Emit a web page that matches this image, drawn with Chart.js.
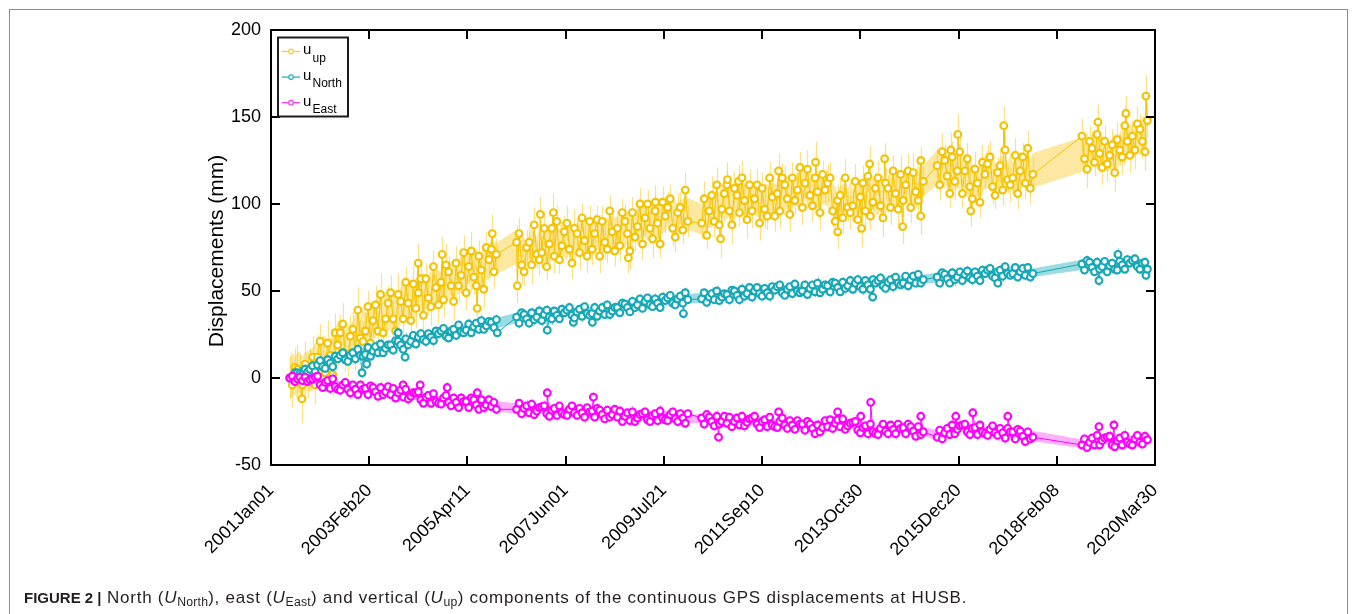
<!DOCTYPE html>
<html>
<head>
<meta charset="utf-8">
<script src="https://cdn.jsdelivr.net/npm/chart.js@4.4.1/dist/chart.umd.min.js"></script>
<style>
  html, body { margin: 0; padding: 0; background: #fff; }
  #wrap { position: relative; width: 1355px; height: 614px; overflow: hidden;
          font-family: "Liberation Sans", Arial, Helvetica, sans-serif; }
  #frame { position: absolute; left: 9px; top: 9px; width: 1339px; height: 700px;
           border: 1.5px solid #8c8c8c; box-sizing: border-box; }
  #c { position: absolute; left: 0; top: 0; }
  #caption { position: absolute; left: 24px; top: 588px; font-size: 17px; letter-spacing: 0.75px;
             color: #231f20; white-space: nowrap; line-height: 20px; }
  #caption b { font-size: 15px; letter-spacing: 0; }
  #caption sub { font-size: 0.72em; vertical-align: -0.25em; line-height: 0; letter-spacing: 0.2px; }
</style>
</head>
<body>
<div id="wrap">
  <div id="frame"></div>
  <canvas id="c" width="1355" height="614"></canvas>
  <div id="caption"><b>FIGURE 2 |</b> North (<i>U</i><sub>North</sub>), east (<i>U</i><sub>East</sub>) and vertical (<i>U</i><sub>up</sub>) components of the continuous GPS displacements at HUSB.</div>
</div>
<script>
// ---- axis ticks (x in days since 2001-01-01) ----
const tickDays = [0, 780, 1560, 2340, 3120, 3900, 4680, 5460, 6240, 7020];
const tickLabels = ['2001Jan01', '2003Feb20', '2005Apr11', '2007Jun01', '2009Jul21',
                    '2011Sep10', '2013Oct30', '2015Dec20', '2018Feb08', '2020Mar30'];
const yTicks = [-50, 0, 50, 100, 150, 200];

// ---- sampled epochs (days since 2001-01-01) ----
const days = [
  150,170,190,210,230,250,270,290,310,330, 350,370,390,410,430,450,470,490,510,530,
  550,570,590,610,630,650,670,690,710,730, 750,770,790,810,830,850,870,890,910,930,
  950,970,990,1010,1030,1050,1070,1090,1110,1130, 1150,1170,1190,1210,1230,1250,1270,1290,1310,1330,
  1350,1370,1390,1410,1430,1450,1470,1490,1510,1530, 1550,1570,1590,1610,1630,1650,1670,1690,1710,1730,
  1750,1770,1790,
  1950,1970,1990,2010,2030,2050,2070,2090,2110,2130, 2150,2170,2190,2210,2230,2250,2270,2290,2310,2330,
  2350,2370,2390,2410,2430,2450,2470,2490,2510,2530, 2550,2570,2590,2610,2630,2650,2670,2690,2710,2730,
  2750,2770,2790,2810,2830,2850,2870,2890,2910,2930, 2950,2970,2990,3010,3030,3050,3070,3090,3110,3130,
  3150,3170,3190,3210,3230,3250,3270,3290,3310,
  3420,3440,3460,3480,3500,3520,3540,3560,3580,3600, 3620,3640,3660,3680,3700,3720,3740,3760,3780,3800,
  3820,3840,3860,3880,3900,3920,3940,3960,3980,4000, 4020,4040,4060,4080,4100,4120,4140,4160,4180,4200,
  4220,4240,4260,4280,4300,4320,4340,4360,4380,4400, 4420,4440,4460,4480,4500,4520,4540,4560,4580,4600,
  4620,4640,4660,4680,4700,4720,4740,4760,4780,4800, 4820,4840,4860,4880,4900,4920,4940,4960,4980,5000,
  5020,5040,5060,5080,5100,5120,5140,5160,5180,
  5290,5310,5330,5350,5370,5390,5410,5430,5450,5470, 5490,5510,5530,5550,5570,5590,5610,5630,5650,5670,
  5690,5710,5730,5750,5770,5790,5810,5830,5850,5870, 5890,5910,5930,5950,5970,5990,6010,6030,6050,
  6440,6460,6480,6500,6520,6540,6560,6580,6600,6620, 6640,6660,6680,6700,6720,6740,6760,6780,6800,6820,
  6840,6860,6880,6900,6920,6940,6960
];

// ---- displacements (mm) ----
const uUp = [
  0,-4,6,5,1,-4,8,0,5,12, -4,12,21,7,3,20,13,2,26,19,
  26,31,14,10,24,28,15,39,23,21, 27,41,20,33,42,27,48,26,34,43,
  49,34,27,48,44,34,55,43,33,54, 40,49,57,36,57,46,41,64,52,42,
  55,45,65,61,53,44,66,53,59,72, 49,64,73,58,53,70,62,51,75,68,
  74,61,71,
  78,83,65,61,75,78,65,88,71,68, 72,86,64,77,86,70,90,68,76,84,
  89,74,66,86,83,72,92,79,70,90, 74,83,91,70,90,78,74,96,84,73,
  86,76,95,90,83,73,95,81,87,100, 77,92,100,86,80,96,89,77,101,93,
  98,103,86,81,95,98,85,108,90,
  89,103,82,96,105,90,111,88,97,106, 111,96,88,109,105,95,115,102,91,111,
  96,103,111,89,109,97,93,115,104,93, 106,96,115,111,103,94,115,102,108,121,
  98,112,120,105,99,115,107,95,117,108, 112,115,96,90,102,105,92,115,98,95,
  99,113,91,104,112,96,116,93,101,109, 115,99,92,112,109,98,119,106,97,117,
  102,111,119,98,118,107,102,125,113,
  122,111,130,125,116,106,127,113,119,130, 106,119,126,110,103,120,112,101,124,117,
  123,127,110,105,118,122,108,131,114,111, 115,128,106,119,127,112,132,109,117,
  139,126,120,136,132,124,140,129,121,136, 123,128,134,118,137,131,127,145,136,128,
  139,131,146,143,136,130,148
];
const uNorth = [
  0,-0.5,3,3,2.5,2,5,3.5,5,7, 3.5,7.5,10,6.5,5.5,10.5,8.5,6.5,12.5,11,
  13,14.5,10.5,9.5,13,14.5,11,16.5,13,12.5, 13.5,17.5,12.5,15.5,18,14.5,19.5,14.5,17,19,
  19,16,21.5,21,19,16.5,22.5,19,21,24.5, 19.5,23.5,25.5,22,21,25.5,23.5,21.5,27,25.5,
  27,28.5,24,23,27,28,24.5,30.5,26.5,26, 27.5,31,26,29.5,31.5,28,33,28,30,32.5,
  32,29,33.5,
  35,31.5,37.5,36.5,34,31.5,37.5,33.5,35,38.5, 33,36.5,39,35,34,38.5,36,34,39.5,37.5,
  39,40.5,36,34.5,38,39.5,35.5,41,37,36, 37,40.5,35.5,38.5,40.5,36.5,42,36.5,38.5,40.5,
  40.5,37.5,43,42.5,40.5,38,44,40.5,42,45.5, 40,44,46,42,41,45.5,43,40.5,46.5,44.5,
  46,47.5,43,42,45.5,47,43,49,45,
  45.5,49,43.5,46.5,48.5,45,50,44.5,46.5,48.5, 48,45,50.5,50,47.5,45,51,47,48.5,52,
  46.5,50,52,48.5,47,51.5,49,47,52.5,50.5, 52.5,53.5,49,47.5,51,52.5,48.5,54,50,49,
  50,53.5,48,51.5,53.5,49.5,54.5,49,51,53.5, 53,49.5,55,54.5,52,49.5,55,51.5,53,56,
  51,54.5,56.5,52.5,51,56,53.5,51,56.5,54.5, 56,57.5,53,51.5,55,56.5,52.5,58,54.5,53.5,
  54.5,58.5,53,56.5,58.5,54.5,59.5,54.5,56.5,
  58,54.5,60.5,59.5,57,54.5,60.5,56.5,58,61, 56,59.5,61.5,57.5,56.5,61,58.5,56,62,60,
  62,63,58.5,57.5,61,62,58.5,64,60,59, 60,63.5,58,61,63,59,63.5,58,60,
  65.5,62,67.5,66.5,63.5,61,66.5,62.5,64,67, 61,64.5,66,62.5,62,67,65,62.5,68,66,
  67.5,68.5,64,62.5,66,66.5,62.5
];
const uEast = [
  0,1,-2,-0.5,0.5,-1.5,0.5,-2,-1,-0.5, 0.5,1,-4,-5.5,-2.5,-1.5,-6,-0.5,-5,-6.5,
  -7,-4,-2.5,-6.5,-8.5,-4,-6.5,-9.5,-4,-6.5, -6,-9.5,-4.5,-5.5,-8,-10.5,-5.5,-9.5,-8,-5,
  -9.5,-6,-11.5,-8.5,-7,-11,-6.5,-12,-10.5,-8.5, -8.5,-8,-12.5,-14.5,-11,-10,-14.5,-9,-13.5,-14.5,
  -15,-11.5,-10,-14,-16,-11.5,-14,-17,-11.5,-13.5, -13.5,-17,-11.5,-12.5,-15.5,-18,-12.5,-17,-15.5,-12.5,
  -16.5,-14,-18,
  -18,-14.5,-20.5,-17.5,-16,-20,-15,-21,-19,-17, -16.5,-16,-20.5,-22,-18.5,-17.5,-21.5,-16,-20,-21,
  -21.5,-18,-16,-20,-21.5,-17.5,-20,-22.5,-17,-19.5, -19,-22.5,-17.5,-18.5,-21,-23.5,-18.5,-22.5,-21,-18,
  -22.5,-19,-25,-22,-20,-24.5,-19.5,-25,-23,-21, -20.5,-19.5,-24,-25,-21.5,-20.5,-24.5,-19,-23,-24,
  -24.5,-21,-19.5,-23.5,-25,-20.5,-23,-26,-20.5,
  -23,-26.5,-21,-22.5,-25,-27.5,-22,-26.5,-25,-22, -26,-22.5,-28,-25,-23,-27,-22,-27.5,-25.5,-23.5,
  -23,-22,-26.5,-28.5,-25,-24,-28,-22.5,-27,-28, -28.5,-25,-23,-27,-29,-24.5,-27,-29.5,-24.5,-26.5,
  -26.5,-30,-25,-26.5,-29,-32,-27,-31,-28.5,-24.5, -28,-24,-29,-26,-24,-28,-23.5,-29.5,-27.5,-26,
  -25.5,-25,-30,-31.5,-28.5,-27.5,-32,-26.5,-31,-32, -32.5,-29,-26.5,-30.5,-32,-27,-29.5,-32,-26.5,-29,
  -28.5,-32,-26.5,-28,-30.5,-33.5,-28,-32.5,-31,
  -34,-30,-35,-31.5,-29,-32.5,-27,-32,-29.5,-27.5, -27,-26.5,-31,-32.5,-29,-28.5,-32.5,-27,-31,-32,
  -33,-29.5,-27.5,-31.5,-33,-29,-31.5,-34.5,-29,-31, -31,-35,-29.5,-30.5,-33.5,-36.5,-31,-35,-34,
  -38.5,-35,-40,-37,-34.5,-38.5,-33,-38.5,-36,-34.5, -34,-33.5,-38.5,-39.5,-36,-34.5,-38.5,-33,-37,-38,
  -38.5,-35,-33,-37,-38,-33.5,-35.5
];

// ---- 1-sigma uncertainties (mm) ----
const errUp = [
  12,13,11,14,12,10,13,11,12,12, 11,13,10,12,11,13,10,12,11,12, 10,12,11,9,12,10,11,13,10,11,
  11,9,12,10,11,10,12,9,11,10, 10,11,9,12,10,11,9,10,12,10, 11,9,10,12,9,10,11,9,10,11,
  9,10,12,9,10,11,10,9,11,10, 10,9,11,10,12,9,10,11,9,10, 11,10,9,
  10,9,11,8,10,9,11,10,8,9, 9,10,8,11,9,10,9,8,10,9, 10,8,9,11,9,10,8,9,10,9,
  9,11,8,10,9,10,8,9,11,9, 10,9,8,10,9,11,9,8,10,9, 9,10,8,9,11,9,10,8,9,10,
  9,8,10,9,11,9,8,10,9,
  9,10,8,9,11,9,10,8,9,10, 8,9,11,10,9,8,10,9,11,9, 10,8,9,10,9,11,8,9,10,9,
  9,10,8,11,9,10,9,8,10,9, 10,9,11,8,9,10,9,10,8,9, 11,9,10,8,9,10,9,11,8,10,
  9,10,8,9,10,11,9,8,10,9, 10,9,11,9,8,10,9,10,9,11, 8,9,10,9,11,9,10,8,9,
  10,9,11,9,10,8,9,11,10,9, 8,10,9,11,9,10,8,9,10,9, 11,9,10,8,9,10,9,11,8,10,
  9,10,9,11,8,9,10,9,10,
  10,9,11,9,10,8,9,11,10,9, 10,8,9,11,10,9,10,11,9,10, 9,11,10,9,10,11,10
];
const errNorth = [
  3,2.5,3,2,3.5,2.5,3,2.5,3,2.5, 2.5,3,2.5,3,2,3,3.5,2.5,3,2.5, 3,3,2.5,2,3,2.5,3,3.5,2.5,3,
  3,2.5,3,2,3.5,2.5,3,2.5,3,2.5, 2.5,3,2.5,3,2,3,3.5,2.5,3,2.5, 3,3,2.5,2,3,2.5,3,3.5,2.5,3,
  3,2.5,3,2,3.5,2.5,3,2.5,3,2.5, 2.5,3,2.5,3,2,3,3.5,2.5,3,2.5, 3,2.5,3,
  3,3,2.5,2,3,2.5,3,3.5,2.5,3, 3,2.5,3,2,3.5,2.5,3,2.5,3,2.5, 2.5,3,2.5,3,2,3,3.5,2.5,3,2.5,
  3,3,2.5,2,3,2.5,3,3.5,2.5,3, 3,2.5,3,2,3.5,2.5,3,2.5,3,2.5, 2.5,3,2.5,3,2,3,3.5,2.5,3,2.5,
  3,2.5,3,2.5,3,3,2.5,3,2.5,
  3,2.5,3,2,3.5,2.5,3,2.5,3,2.5, 2.5,3,2.5,3,2,3,3.5,2.5,3,2.5, 3,3,2.5,2,3,2.5,3,3.5,2.5,3,
  3,2.5,3,2,3.5,2.5,3,2.5,3,2.5, 2.5,3,2.5,3,2,3,3.5,2.5,3,2.5, 3,3,2.5,2,3,2.5,3,3.5,2.5,3,
  3,2.5,3,2,3.5,2.5,3,2.5,3,2.5, 2.5,3,2.5,3,2,3,3.5,2.5,3,2.5, 3,2.5,3,2.5,3,3,2.5,3,2.5,
  3,3,2.5,2,3,2.5,3,3.5,2.5,3, 3,2.5,3,2,3.5,2.5,3,2.5,3,2.5, 2.5,3,2.5,3,2,3,3.5,2.5,3,2.5,
  3,2.5,3,2.5,3,3,2.5,3,2.5,
  3,2.5,3,2,3.5,2.5,3,2.5,3,2.5, 2.5,3,2.5,3,2,3,3.5,2.5,3,2.5, 3,2.5,3,3,2.5,3,2.5
];
const errEast = [
  2.5,3,2.5,3,2,3,3.5,2.5,3,2.5, 3,3,2.5,2,3,2.5,3,3.5,2.5,3, 3,2.5,3,2,3.5,2.5,3,2.5,3,2.5,
  2.5,3,2.5,3,2,3,3.5,2.5,3,2.5, 3,3,2.5,2,3,2.5,3,3.5,2.5,3, 3,2.5,3,2,3.5,2.5,3,2.5,3,2.5,
  2.5,3,2.5,3,2,3,3.5,2.5,3,2.5, 3,3,2.5,2,3,2.5,3,3.5,2.5,3, 2.5,3,3,
  3,2.5,3,2,3.5,2.5,3,2.5,3,2.5, 2.5,3,2.5,3,2,3,3.5,2.5,3,2.5, 3,3,2.5,2,3,2.5,3,3.5,2.5,3,
  3,2.5,3,2,3.5,2.5,3,2.5,3,2.5, 2.5,3,2.5,3,2,3,3.5,2.5,3,2.5, 3,3,2.5,2,3,2.5,3,3.5,2.5,3,
  2.5,3,3,2.5,3,2.5,3,3,2.5,
  2.5,3,2.5,3,2,3,3.5,2.5,3,2.5, 3,3,2.5,2,3,2.5,3,3.5,2.5,3, 3,2.5,3,2,3.5,2.5,3,2.5,3,2.5,
  2.5,3,2.5,3,2,3,3.5,2.5,3,2.5, 3,3,2.5,2,3,2.5,3,3.5,2.5,3, 3,2.5,3,2,3.5,2.5,3,2.5,3,2.5,
  2.5,3,2.5,3,2,3,3.5,2.5,3,2.5, 3,3,2.5,2,3,2.5,3,3.5,2.5,3, 2.5,3,3,2.5,3,2.5,3,3,2.5,
  3,2.5,3,2,3.5,2.5,3,2.5,3,2.5, 2.5,3,2.5,3,2,3,3.5,2.5,3,2.5, 3,3,2.5,2,3,2.5,3,3.5,2.5,3,
  3,3,2.5,3,2.5,3,3,2.5,3,
  2.5,3,2.5,3,2,3,3.5,2.5,3,2.5, 3,3,2.5,2,3,2.5,3,3.5,2.5,3, 2.5,3,3,2.5,3,3,2.5
];

// ---- isolated epochs that sit off the main trend ----
const upOutDays = [246,1169,1359,1638,1757,1956,2139,2242,2838,3053,3570,3625,3713,4031,4325,4500,4690,4754,4873,5016,5160,5398,5454,5557,5819,6567,6789,6948];
const upOutVals = [-12,66,71,40,83,53,94,95,69,101,80,114,113,119,124,84,86,123,126,87,93,131,140,96,145,147,152,162];
const upOutErr  = [14,11,10,12,11,10,10,11,9,10,11,10,9,10,12,10,11,10,9,10,11,10,12,9,11,10,10,12];
const northOutDays = [723,760,1010,1065,1797,2194,2401,2552,3275,4778,5772,6575,6726,6948];
const northOutVals = [3,8,26,12,26,27.5,32,32,37,46.5,54.5,56,71,59];
const northOutErr  = [3,3,2.5,3,2.5,3,3,2.5,3,3,2.5,3,3.5,3];
const eastOutDays = [1049,1185,1399,1638,2194,2560,3554,4031,4500,4683,4762,5160,5438,5573,5851,6575,6694];
const eastOutVals = [-4,-4,-5.5,-8.5,-8.5,-11,-34,-19.5,-19.5,-22,-14,-22,-22,-20,-22,-28,-27];
const eastOutErr  = [3,2.5,3,3,2.5,3,3.5,3,2.5,3,3,2.5,3,3,2.5,3,3];

const FONT = '"Liberation Sans", Arial, Helvetica, sans-serif';

const series = [
  { sub: 'up',    vals: uUp,    err: errUp,    oDays: upOutDays,    oVals: upOutVals,    oErr: upOutErr,
    color: '#F3C300', band: 'rgba(249,214,84,0.55)', bar: 'rgba(246,205,55,0.6)', legend: '#F4CB3A' },
  { sub: 'North', vals: uNorth, err: errNorth, oDays: northOutDays, oVals: northOutVals, oErr: northOutErr,
    color: '#16A8B6', band: 'rgba(30,178,190,0.45)', bar: 'rgba(30,178,190,0.55)', legend: '#22B4C2' },
  { sub: 'East',  vals: uEast,  err: errEast,  oDays: eastOutDays,  oVals: eastOutVals,  oErr: eastOutErr,
    color: '#FF00FF', band: 'rgba(250,60,250,0.40)', bar: 'rgba(250,60,250,0.50)', legend: '#F53CF5' }
];

function pts(xs, ys) { return xs.map((x, i) => ({ x: x, y: ys[i] })); }
// uncertainty envelope: running mean of neighbouring epochs (within 40 days) +/- sigma
function envelope(xs, ys, es, sign) {
  return xs.map((x, i) => {
    let sum = 0, n = 0;
    for (let j = Math.max(0, i - 2); j <= Math.min(xs.length - 1, i + 2); j++) {
      if (Math.abs(xs[j] - x) <= 40) { sum += ys[j]; n++; }
    }
    return { x: x, y: sum / n + sign * es[i] };
  });
}

const datasets = [];
const barOwner = {};   // dataset index -> series whose error bars are drawn after it
series.forEach((s, k) => {
  const base = 9 - 3 * k;
  datasets.push({ type: 'line', data: envelope(days, s.vals, s.err, -1), order: base,
                  pointRadius: 0, borderWidth: 0, fill: false });
  barOwner[datasets.length] = s;
  datasets.push({ type: 'line', data: envelope(days, s.vals, s.err, 1), order: base - 1,
                  pointRadius: 0, borderWidth: 0, fill: '-1', backgroundColor: s.band });
  const line = pts(days, s.vals).concat(pts(s.oDays, s.oVals)).sort((a, b) => a.x - b.x);
  datasets.push({ type: 'line', data: line, order: base - 2, borderColor: s.color, borderWidth: 1,
                  pointRadius: 3.4, pointBorderWidth: 2.1, pointBackgroundColor: '#ffffff',
                  pointBorderColor: s.color, fill: false, tension: 0 });
});

const errorBars = {
  id: 'errorBars',
  afterDatasetDraw(chart, args) {
    const s = barOwner[args.index];
    if (!s) return;
    const ctx = chart.ctx, xs = chart.scales.x, ys = chart.scales.y, a = chart.chartArea;
    ctx.save();
    ctx.beginPath(); ctx.rect(a.left, a.top, a.right - a.left, a.bottom - a.top); ctx.clip();
    ctx.strokeStyle = s.bar; ctx.lineWidth = 1.2;
    const draw = (dx, dv, de) => {
      ctx.beginPath();
      dx.forEach((d, i) => {
        const px = Math.round(xs.getPixelForValue(d)) + 0.5;
        ctx.moveTo(px, ys.getPixelForValue(dv[i] - de[i]));
        ctx.lineTo(px, ys.getPixelForValue(dv[i] + de[i]));
      });
      ctx.stroke();
    };
    draw(days, s.vals, s.err);
    draw(s.oDays, s.oVals, s.oErr);
    ctx.restore();
  }
};

const frame = {
  id: 'frame',
  afterDraw(chart) {
    const ctx = chart.ctx, a = chart.chartArea, xs = chart.scales.x, ys = chart.scales.y;
    const L = 9;
    ctx.save();
    ctx.strokeStyle = '#000'; ctx.lineWidth = 2;
    ctx.strokeRect(a.left, a.top, a.right - a.left, a.bottom - a.top);
    ctx.beginPath();
    yTicks.forEach(v => {
      const y = Math.round(ys.getPixelForValue(v));
      ctx.moveTo(a.left, y); ctx.lineTo(a.left + L, y);
      ctx.moveTo(a.right, y); ctx.lineTo(a.right - L, y);
    });
    tickDays.forEach(v => {
      const x = Math.round(xs.getPixelForValue(v));
      ctx.moveTo(x, a.bottom); ctx.lineTo(x, a.bottom - L);
      ctx.moveTo(x, a.top); ctx.lineTo(x, a.top + L);
    });
    ctx.stroke();
    // y-axis title
    ctx.fillStyle = '#000';
    ctx.font = '21px ' + FONT;
    ctx.textAlign = 'center'; ctx.textBaseline = 'middle';
    ctx.translate(217, 251);
    ctx.rotate(-Math.PI / 2);
    ctx.fillText('Displacements (mm)', 0, 0);
    ctx.restore();
  }
};

const legendBox = {
  id: 'legendBox',
  afterDraw(chart) {
    const ctx = chart.ctx, a = chart.chartArea;
    const x0 = a.left + 7, y0 = a.top + 7.5, w = 70, h = 79;
    ctx.save();
    ctx.fillStyle = '#fff'; ctx.fillRect(x0, y0, w, h);
    ctx.strokeStyle = '#1c1c1c'; ctx.lineWidth = 2; ctx.strokeRect(x0, y0, w, h);
    series.forEach((s, k) => {
      const y = y0 + 14 + k * 25.6;
      ctx.strokeStyle = s.legend; ctx.lineWidth = 1.3;
      ctx.beginPath(); ctx.moveTo(x0 + 4, y); ctx.lineTo(x0 + 22, y); ctx.stroke();
      ctx.beginPath(); ctx.arc(x0 + 13, y, 2.3, 0, Math.PI * 2);
      ctx.fillStyle = '#fff'; ctx.fill(); ctx.lineWidth = 1.2; ctx.stroke();
      ctx.fillStyle = '#000'; ctx.textAlign = 'left'; ctx.textBaseline = 'alphabetic';
      ctx.font = '15px ' + FONT;
      ctx.fillText('u', x0 + 25, y + 2.8);
      ctx.font = '12px ' + FONT;
      ctx.fillText(s.sub, x0 + 34.5, y + 10);
    });
    ctx.restore();
  }
};

new Chart(document.getElementById('c'), {
  type: 'line',
  data: { datasets: datasets },
  options: {
    responsive: false,
    animation: false,
    devicePixelRatio: 1,
    layout: { padding: { top: 30, right: 200, bottom: 0, left: 0 } },
    plugins: { legend: { display: false }, tooltip: { enabled: false }, filler: { propagate: false } },
    scales: {
      x: {
        type: 'linear', min: 0, max: 7020,
        afterBuildTicks(scale) { scale.ticks = tickDays.map(v => ({ value: v })); },
        afterFit(scale) { scale.height = 149; },
        grid: { display: false, drawTicks: false }, border: { display: false },
        ticks: { autoSkip: false, minRotation: 45, maxRotation: 45, padding: 15, color: '#000',
                 font: { family: FONT, size: 18 },
                 callback(v, i) { return tickLabels[i]; } }
      },
      y: {
        type: 'linear', min: -50, max: 200,
        afterBuildTicks(scale) { scale.ticks = yTicks.map(v => ({ value: v })); },
        afterFit(scale) { scale.width = 271; },
        grid: { display: false, drawTicks: false }, border: { display: false },
        ticks: { padding: 10, color: '#000', font: { family: FONT, size: 18 },
                 callback(v) { return String(v); } }
      }
    }
  },
  plugins: [errorBars, frame, legendBox]
});
</script>
</body>
</html>
